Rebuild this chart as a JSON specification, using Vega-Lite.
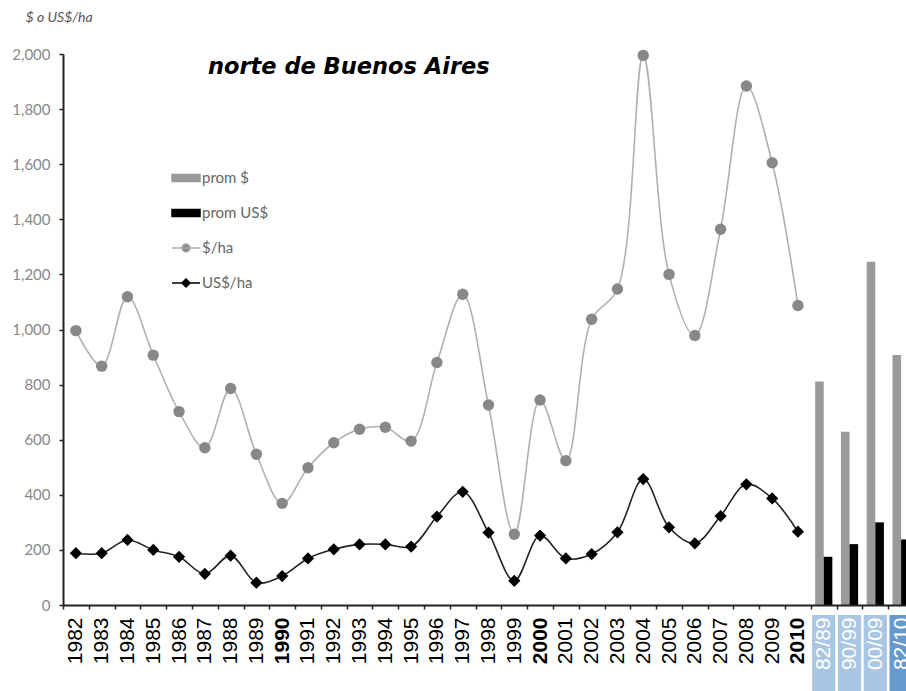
{
  "$schema": "https://vega.github.io/schema/vega-lite/v6.json",
  "width": 851,
  "height": 551,
  "autosize": {"type": "none"},
  "padding": {"left": 63, "top": 54, "right": -8, "bottom": 86},
  "background": "white",
  "config": {"view": {"stroke": null}, "font": "Lato"},
  "title": {"text": "norte de Buenos Aires", "anchor": "start", "frame": "group", "dx": 145, "dy": 66, "offset": -20, "fontSize": 22.5, "fontStyle": "italic", "fontWeight": "bold", "font": "DejaVu Sans", "color": "black", "baseline": "alphabetic"},
  "data": {"values": [
    {"c": "1982", "s": "$/ha", "v": 996}, {"c": "1983", "s": "$/ha", "v": 867}, {"c": "1984", "s": "$/ha", "v": 1119},
    {"c": "1985", "s": "$/ha", "v": 907}, {"c": "1986", "s": "$/ha", "v": 702}, {"c": "1987", "s": "$/ha", "v": 571},
    {"c": "1988", "s": "$/ha", "v": 786}, {"c": "1989", "s": "$/ha", "v": 547}, {"c": "1990", "s": "$/ha", "v": 369},
    {"c": "1991", "s": "$/ha", "v": 498}, {"c": "1992", "s": "$/ha", "v": 589}, {"c": "1993", "s": "$/ha", "v": 638},
    {"c": "1994", "s": "$/ha", "v": 645}, {"c": "1995", "s": "$/ha", "v": 595}, {"c": "1996", "s": "$/ha", "v": 880},
    {"c": "1997", "s": "$/ha", "v": 1128}, {"c": "1998", "s": "$/ha", "v": 726}, {"c": "1999", "s": "$/ha", "v": 257},
    {"c": "2000", "s": "$/ha", "v": 744}, {"c": "2001", "s": "$/ha", "v": 524}, {"c": "2002", "s": "$/ha", "v": 1037},
    {"c": "2003", "s": "$/ha", "v": 1147}, {"c": "2004", "s": "$/ha", "v": 1995}, {"c": "2005", "s": "$/ha", "v": 1200},
    {"c": "2006", "s": "$/ha", "v": 978}, {"c": "2007", "s": "$/ha", "v": 1364}, {"c": "2008", "s": "$/ha", "v": 1884},
    {"c": "2009", "s": "$/ha", "v": 1605}, {"c": "2010", "s": "$/ha", "v": 1087},
    {"c": "1982", "s": "US$/ha", "v": 188}, {"c": "1983", "s": "US$/ha", "v": 188}, {"c": "1984", "s": "US$/ha", "v": 236},
    {"c": "1985", "s": "US$/ha", "v": 200}, {"c": "1986", "s": "US$/ha", "v": 175}, {"c": "1987", "s": "US$/ha", "v": 113},
    {"c": "1988", "s": "US$/ha", "v": 179}, {"c": "1989", "s": "US$/ha", "v": 81}, {"c": "1990", "s": "US$/ha", "v": 105},
    {"c": "1991", "s": "US$/ha", "v": 169}, {"c": "1992", "s": "US$/ha", "v": 202}, {"c": "1993", "s": "US$/ha", "v": 220},
    {"c": "1994", "s": "US$/ha", "v": 220}, {"c": "1995", "s": "US$/ha", "v": 212}, {"c": "1996", "s": "US$/ha", "v": 321},
    {"c": "1997", "s": "US$/ha", "v": 411}, {"c": "1998", "s": "US$/ha", "v": 263}, {"c": "1999", "s": "US$/ha", "v": 88},
    {"c": "2000", "s": "US$/ha", "v": 252}, {"c": "2001", "s": "US$/ha", "v": 169}, {"c": "2002", "s": "US$/ha", "v": 185},
    {"c": "2003", "s": "US$/ha", "v": 264}, {"c": "2004", "s": "US$/ha", "v": 457}, {"c": "2005", "s": "US$/ha", "v": 282},
    {"c": "2006", "s": "US$/ha", "v": 224}, {"c": "2007", "s": "US$/ha", "v": 323}, {"c": "2008", "s": "US$/ha", "v": 438},
    {"c": "2009", "s": "US$/ha", "v": 387}, {"c": "2010", "s": "US$/ha", "v": 266},
    {"c": "82/89", "s": "prom $", "v": 811}, {"c": "82/89", "s": "prom US$", "v": 175},
    {"c": "90/99", "s": "prom $", "v": 629}, {"c": "90/99", "s": "prom US$", "v": 221},
    {"c": "00/09", "s": "prom $", "v": 1246}, {"c": "00/09", "s": "prom US$", "v": 300},
    {"c": "82/10", "s": "prom $", "v": 907}, {"c": "82/10", "s": "prom US$", "v": 238}
  ]},
  "encoding": {
    "x": {
      "field": "c", "type": "nominal", "sort": null,
      "scale": {"domain": ["1982","1983","1984","1985","1986","1987","1988","1989","1990","1991","1992","1993","1994","1995","1996","1997","1998","1999","2000","2001","2002","2003","2004","2005","2006","2007","2008","2009","2010","82/89","90/99","00/09","82/10"], "paddingInner": 0, "paddingOuter": 0},
      "axis": {
        "title": null, "labelAngle": -90, "labelAlign": "right", "labelBaseline": "middle",
        "labelFont": "Liberation Sans", "labelFontSize": 21,
        "labelColor": {"condition": {"test": "indexof(['82/89','90/99','00/09','82/10'], datum.value) >= 0", "value": "white"}, "value": "black"},
        "labelFontWeight": {"condition": {"test": "indexof(['1990','2000','2010'], datum.value) >= 0", "value": "bold"}, "value": "normal"},
        "labelPadding": 8, "tickSize": 4, "tickBand": "extent", "domainColor": "#222", "domainWidth": 2,
        "tickColor": "#222", "tickWidth": 1.5, "zindex": 1, "labelOverlap": false, "labelBound": false
      }
    },
    "y": {
      "field": "v", "type": "quantitative",
      "scale": {"domain": [0, 2000], "nice": false},
      "axis": {
        "values": [0, 200, 400, 600, 800, 1000, 1200, 1400, 1600, 1800, 2000], "format": ",d", "grid": false,
        "domainColor": "#222", "domainWidth": 2, "tickColor": "#222", "tickWidth": 1.5, "tickSize": 4,
        "labelColor": "#888888", "labelFontSize": 15, "labelFont": "Lato", "labelPadding": 9,
        "title": "$ o US$/ha", "titleAngle": 0, "titleX": -38, "titleY": -37, "titleAlign": "left", "titleBaseline": "middle",
        "titleFont": "Lato", "titleFontStyle": "italic", "titleFontWeight": "normal", "titleFontSize": 14, "titleColor": "#555555"
      }
    }
  },
  "layer": [
    {
      "transform": [{"filter": "datum.s === 'prom $'"}],
      "mark": {"type": "bar", "width": {"band": 0.9}},
      "encoding": {
        "y": {"datum": -36, "type": "quantitative"},
        "y2": {"datum": -400},
        "color": {"condition": {"test": "datum.c === '82/10'", "value": "#6699cc"}, "value": "#a9c6e4"}
      }
    },
    {
      "transform": [{"filter": "datum.s === 'prom $' || datum.s === 'prom US$'"}],
      "mark": {"type": "bar"},
      "encoding": {
        "xOffset": {"field": "s", "type": "nominal", "scale": {"domain": ["prom $", "prom US$"], "paddingInner": 0, "paddingOuter": 0.5}},
        "color": {"field": "s", "type": "nominal"}
      }
    },
    {
      "transform": [{"filter": "datum.s === '$/ha'"}],
      "mark": {"type": "line", "interpolate": "catmull-rom", "color": "#b0b0b0", "strokeWidth": 1.6},
      "encoding": {}
    },
    {
      "transform": [{"filter": "datum.s === 'US$/ha'"}],
      "mark": {"type": "line", "interpolate": "catmull-rom", "color": "#222222", "strokeWidth": 1.6},
      "encoding": {}
    },
    {
      "transform": [{"filter": "datum.s === '$/ha'"}],
      "mark": {"type": "point", "filled": true, "shape": "circle", "size": 130, "opacity": 1, "color": "#888888"},
      "encoding": {}
    },
    {
      "transform": [{"filter": "datum.s === 'US$/ha'"}],
      "mark": {"type": "point", "filled": true, "shape": "diamond", "size": 150, "opacity": 1, "color": "#000000"},
      "encoding": {}
    },
    {
      "mark": {"type": "point", "filled": true, "size": 0, "strokeWidth": 1.5, "opacity": 1},
      "encoding": {
        "color": {
          "field": "s", "type": "nominal",
          "scale": {"domain": ["prom $", "prom US$", "$/ha", "US$/ha"], "range": ["#9a9a9a", "#000000", "#888888", "#000000"]},
          "legend": {
            "title": null, "orient": "none", "legendX": 112, "legendY": 113, "padding": 0, "rowPadding": 16,
            "symbolSize": 400, "labelOffset": 5, "labelFontSize": 15, "labelColor": "#666666", "labelFont": "Lato",
            "encode": {"symbols": {"update": {"size": {"value": 400}}}}
          }
        },
        "stroke": {
          "field": "s", "type": "nominal",
          "scale": {"domain": ["prom $", "prom US$", "$/ha", "US$/ha"], "range": ["#9a9a9a", "#000000", "#aaaaaa", "#000000"]},
          "legend": {
            "title": null, "orient": "none", "legendX": 112, "legendY": 113, "padding": 0, "rowPadding": 16,
            "symbolSize": 400, "labelOffset": 5, "labelFontSize": 15, "labelColor": "#666666", "labelFont": "Lato",
            "encode": {"symbols": {"update": {"size": {"value": 400}}}}
          }
        },
        "shape": {
          "field": "s", "type": "nominal",
          "scale": {"domain": ["prom $", "prom US$", "$/ha", "US$/ha"], "range": [
            "M-1.4,-0.35H1.4V0.35H-1.4Z",
            "M-1.4,-0.35H1.4V0.35H-1.4Z",
            "M-1.4,0H1.4M-0.4,0A0.4,0.4,0,1,1,0.4,0A0.4,0.4,0,1,1,-0.4,0Z",
            "M-1.4,0H1.4M0,-0.4L0.4,0L0,0.4L-0.4,0Z"
          ]},
          "legend": {
            "title": null, "orient": "none", "legendX": 112, "legendY": 113, "padding": 0, "rowPadding": 16,
            "symbolSize": 400, "labelOffset": 5, "labelFontSize": 15, "labelColor": "#666666", "labelFont": "Lato",
            "encode": {"symbols": {"update": {"size": {"value": 400}}}}
          }
        }
      }
    }
  ]
}
